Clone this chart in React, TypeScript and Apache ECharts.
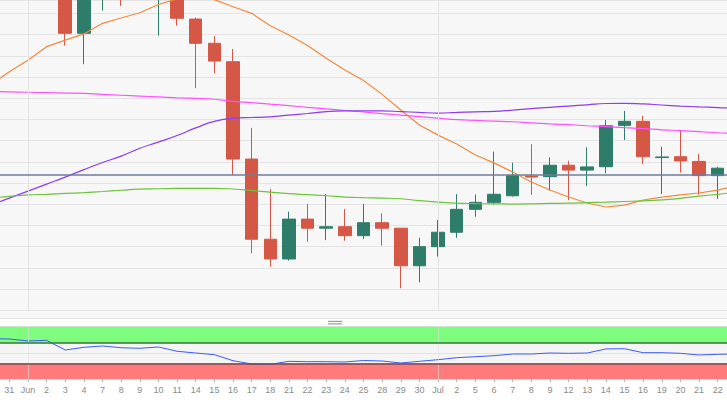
import { useEffect, useRef } from 'react';
import * as echarts from 'echarts';

const categories = ['31','Jun','2','3','4','7','8','9','10','11','14','15','16','17','18','21','22','23','24','25','28','29','30','Jul','2','5','6','7','8','9','12','13','14','15','16','19','20','21','22'];

const openValues = [151,157,155,158,130.6,148,156,150,148,152,137.3,125.9,117.2,71.3,33.5,24.2,43.0,38.7,39.4,35.2,41.3,38.7,21.0,30.0,36.8,47.6,50.9,54.0,63.3,63.0,68.4,66.1,67.7,87.2,89.1,72.0,72.4,70.2,63.5];
const closeValues = [157,155,158,130.6,152,155,148.5,155,154,137.7,125.9,117.5,71.3,33.5,24.2,43.0,38.7,39.4,35.2,41.3,38.7,21.0,30.0,36.8,47.6,50.9,54.7,63.5,62.8,68.4,66.1,67.6,87.0,89.1,72.4,72.3,70.4,63.5,67.0];
const lowValues = [148.5,149,150,124.8,116.0,141.3,143.5,148,129.5,134.2,104.7,111.7,63.8,26.9,20.6,23.4,32.3,33.1,32.8,33.6,30.5,10.4,13.2,25.3,34.2,44.1,49.9,53.6,54.4,56.4,52.0,58.6,64.6,80.3,69.0,54.8,64.9,54.4,52.5];
const highValues = [159,160,161,160,155,157,158,157,156,155,138.0,129.3,123.2,86.0,57.1,46.5,50.1,54.8,47.8,50.1,45.7,38.7,34.2,42.6,54.8,54.6,74.8,69.6,78.3,72.1,70.5,76.8,89.7,94.0,91.7,77.1,84.7,73.7,67.7];

// Indicator values at each session, plus the values where each line meets the left and right edges of the plot
const maFast = [112.5,117.9,124.3,127.4,130.3,135.3,137.8,140.3,144.2,146.8,148.2,146.5,143.1,140.0,134.2,129.8,124.8,118.8,113.3,108.3,101.8,94.4,87.4,82.6,78.4,73.2,69.5,65.2,60.5,56.7,53.4,50.6,48.7,49.6,52.0,53.4,54.4,55.3,56.7];
const maFastEdges = [109.4, 57.7];
const maMagenta = [103.0,102.8,102.6,102.4,102.3,101.8,101.4,101.0,100.6,100.2,99.9,99.5,98.5,97.9,97.2,96.5,95.7,95.0,94.2,93.5,92.7,92.0,91.3,90.6,89.9,89.5,89.2,88.9,88.4,87.9,87.5,87.0,86.6,86.1,85.7,85.1,84.7,84.2,83.7];
const maMagentaEdges = [103.1, 83.5];
const maPurple = [52.9,56.2,59.5,62.8,66.3,69.7,72.7,76.4,79.3,82.4,86.0,89.1,90.5,90.9,91.2,92.0,92.8,93.7,94.0,94.0,94.0,93.7,93.3,93.0,93.3,93.6,93.8,94.4,95.1,95.7,96.3,96.9,97.5,97.6,97.3,96.8,96.3,95.9,95.6];
const maPurpleEdges = [51.2, 95.4];
const maGreen = [53.7,54.4,54.7,55.1,55.5,56.0,56.6,57.1,57.3,57.5,57.5,57.5,57.2,56.5,55.7,55.0,54.5,54.0,53.4,53.1,52.9,52.6,51.7,51.0,50.5,50.3,50.2,50.1,50.2,50.4,50.5,50.8,51.0,51.3,51.6,52.1,52.8,53.8,54.7];
const maGreenEdges = [53.3, 55.2];

const rsiValues = [76.5,72.7,74.0,55.4,60.6,63.1,59.8,58.7,61.2,53.0,49.7,46.5,35.0,28.7,28.1,33.8,33.1,33.1,32.5,35.4,34.4,30.6,33.8,36.9,40.7,42.6,44.6,47.8,47.8,49.7,49.1,49.7,57.4,57.9,50.3,50.3,49.1,45.9,47.2];
const rsiEdges = [76.8, 47.6];

const priceMin = 0;
const priceMax = 146.3;
const priceStep = 10;
const priceLevel = 63.8;
const monthStarts = [1, 23];
const rsiUpper = 70;
const rsiLower = 30;

export default function App() {
  const ref = useRef<HTMLDivElement>(null);
  useEffect(() => {
    const chart = echarts.init(ref.current!, null, { renderer: 'svg' });
    const n = categories.length;
    const candleData = categories.map((_, i) => [openValues[i], closeValues[i], lowValues[i], highValues[i]]);
    const withEdges = (vals: number[], edges: number[]) => [
      [-0.5, edges[0]],
      ...vals.map((v, i) => [i, v]),
      [n - 0.5, edges[1]],
    ];
    const noLine = { show: false };
    const monthLines = monthStarts.map((m) => ({ xAxis: m, lineStyle: { color: '#e3e3e3', width: 1, type: 'solid' } }));
    const maLine = (name: string, data: number[], edges: number[], color: string, smooth: boolean) => ({
      name, type: 'line', data: withEdges(data, edges), xAxisIndex: 2, yAxisIndex: 0, symbol: 'none', smooth, z: 4,
      lineStyle: { color, width: 1.2 }, silent: true,
    });
    const hiddenValueX = (gridIndex: number) => ({
      type: 'value', gridIndex, min: -0.5, max: n - 0.5, show: false,
      axisLine: noLine, axisTick: noLine, axisLabel: noLine, splitLine: noLine,
    });
    chart.setOption({
      animation: false,
      backgroundColor: '#ffffff',
      graphic: {
        elements: [
          { type: 'rect', z: -10, shape: { x: 0, y: 0, width: 727, height: 318.5 }, style: { fill: '#f7f7f7' }, silent: true },
          { type: 'line', z: -9, shape: { x1: 0, y1: 318.5, x2: 727, y2: 318.5 }, style: { stroke: '#e2e2e2', lineWidth: 1 }, silent: true },
          { type: 'rect', z: 10, shape: { x: 328, y: 320.8, width: 14, height: 1.2 }, style: { fill: '#9a9a9a' }, silent: true },
          { type: 'rect', z: 10, shape: { x: 328, y: 323.3, width: 14, height: 1.2 }, style: { fill: '#9a9a9a' }, silent: true },
        ],
      },
      grid: [
        { left: 0, right: 0, top: 0, bottom: 89.7 },
        { left: 0, right: 0, top: 326.7, bottom: 21, show: true, backgroundColor: '#f5f5f5', borderWidth: 0 },
      ],
      xAxis: [
        { type: 'category', data: categories, gridIndex: 0, axisLine: noLine, axisTick: noLine, axisLabel: noLine, splitLine: noLine },
        {
          type: 'category', data: categories, gridIndex: 1, axisLine: noLine,
          axisTick: { show: true, alignWithLabel: true, interval: 0, length: 3, lineStyle: { color: '#b5b5b5' } },
          axisLabel: { interval: 0, fontSize: 9, color: '#8a8a8a', margin: 6, fontFamily: 'Liberation Sans, Arial, sans-serif' },
          splitLine: noLine,
        },
        hiddenValueX(0),
        hiddenValueX(1),
      ],
      yAxis: [
        { type: 'value', gridIndex: 0, min: priceMin, max: priceMax, interval: priceStep, axisLabel: noLine, axisLine: noLine, axisTick: noLine, splitLine: { lineStyle: { color: '#e4e4e4', width: 1 } } },
        { type: 'value', gridIndex: 1, min: 0, max: 100, interval: 50, axisLabel: noLine, axisLine: noLine, axisTick: noLine, splitLine: { lineStyle: { color: '#e2e2e2', width: 1 } } },
      ],
      series: [
        {
          type: 'line', data: categories.map(() => null), xAxisIndex: 0, yAxisIndex: 0, z: 1, symbol: 'none', silent: true,
          markLine: {
            silent: true, symbol: ['none', 'none'], label: { show: false }, animation: false,
            data: [...monthLines, { yAxis: priceLevel, lineStyle: { color: '#6f7d9b', width: 1.5, type: 'solid' } }],
          },
        },
        {
          type: 'candlestick', data: candleData, xAxisIndex: 0, yAxisIndex: 0, barWidth: 13, z: 3, clip: true,
          itemStyle: { color: '#2e7d6b', color0: '#d55746', borderColor: '#2e7d6b', borderColor0: '#d55746', borderWidth: 1 },
        },
        maLine('MA fast', maFast, maFastEdges, '#f5883c', false),
        maLine('MA magenta', maMagenta, maMagentaEdges, '#ff50ff', true),
        maLine('MA purple', maPurple, maPurpleEdges, '#8c3cf2', true),
        maLine('MA green', maGreen, maGreenEdges, '#6cc43a', true),
        {
          type: 'line', data: categories.map(() => null), xAxisIndex: 1, yAxisIndex: 1, z: 1, symbol: 'none', silent: true,
          markArea: {
            silent: true,
            data: [
              [{ yAxis: rsiUpper, itemStyle: { color: '#7efc7e' } }, { yAxis: 100 }],
              [{ yAxis: 0, itemStyle: { color: '#ff7b7b' } }, { yAxis: rsiLower }],
            ],
          },
        },
        {
          type: 'line', data: categories.map(() => null), xAxisIndex: 1, yAxisIndex: 1, z: 2, symbol: 'none', silent: true,
          markLine: {
            silent: true, symbol: ['none', 'none'], label: { show: false },
            data: [
              ...monthStarts.map((m) => ({ xAxis: m, lineStyle: { color: '#e0e0e0', width: 1, type: 'solid', opacity: 0.6 } })),
              { yAxis: rsiUpper, lineStyle: { color: '#2b7a2b', width: 1.5, type: 'solid' } },
              { yAxis: rsiLower, lineStyle: { color: '#7d4848', width: 1.5, type: 'solid' } },
            ],
          },
        },
        {
          name: 'RSI', type: 'line', data: withEdges(rsiValues, rsiEdges), xAxisIndex: 3, yAxisIndex: 1, z: 3, symbol: 'none', silent: true,
          lineStyle: { color: '#3a5cf5', width: 1 },
        },
      ],
    });
    return () => chart.dispose();
  }, []);
  return <div ref={ref} style={{ position: 'absolute', left: 0, top: 0, width: 727, height: 400 }} />;
}
